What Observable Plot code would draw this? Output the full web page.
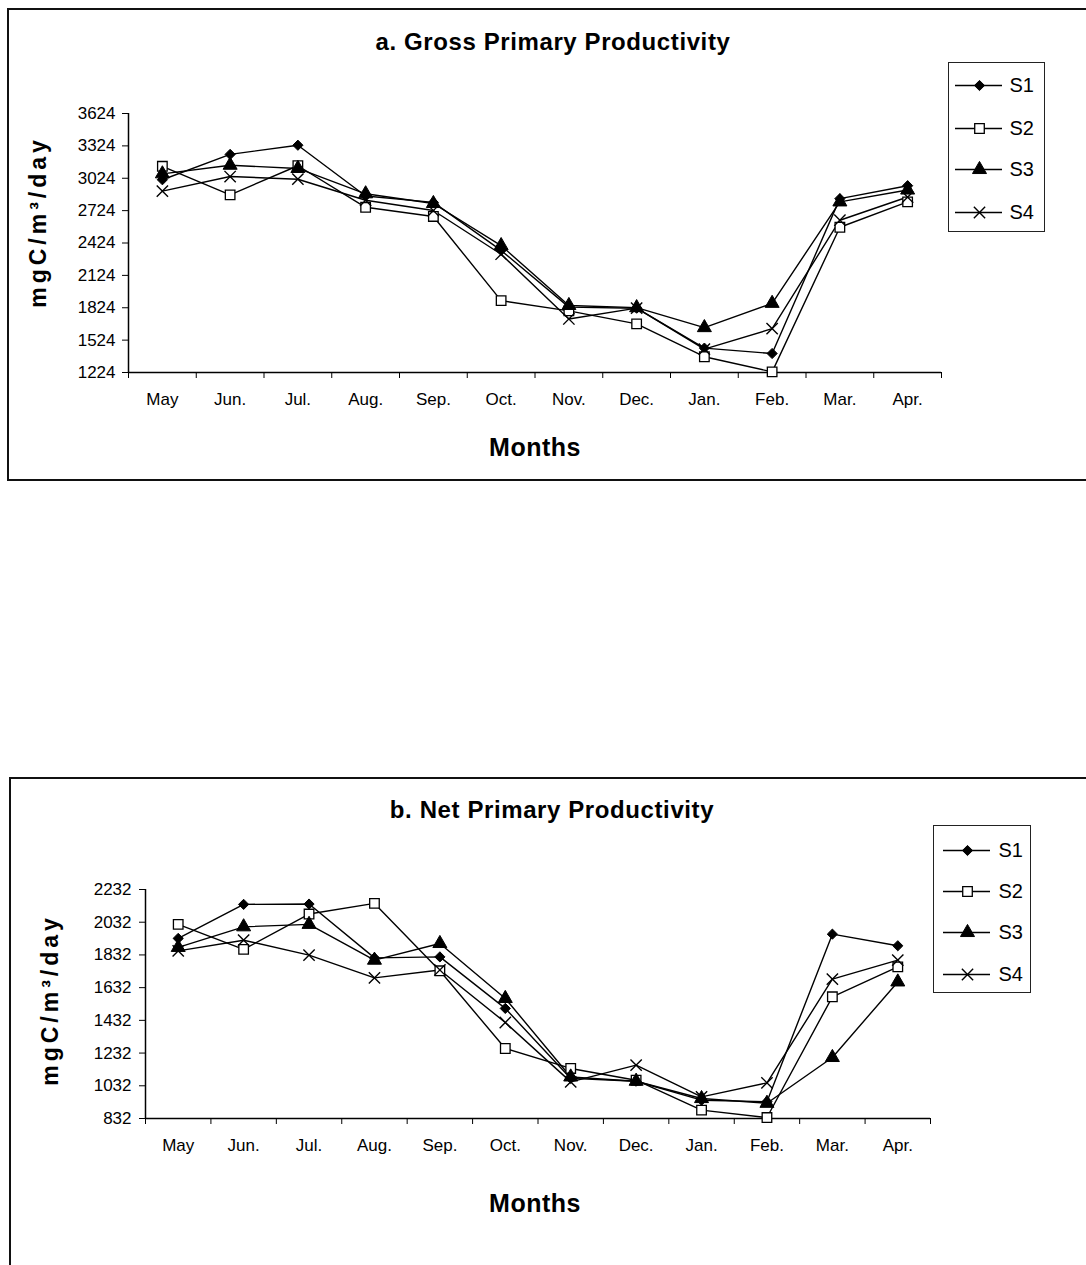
<!DOCTYPE html>
<html>
<head>
<meta charset="utf-8">
<script src="https://cdn.jsdelivr.net/npm/d3@7"></script>
<script src="https://cdn.jsdelivr.net/npm/@observablehq/plot@0.6"></script>
<style>
  html, body { margin: 0; padding: 0; background: #fff; }
  body { position: relative; width: 1086px; height: 1265px; overflow: hidden; font-family: "Liberation Sans", Arial, sans-serif; color: #000; }
  .frame { position: absolute; border: 2px solid #111; box-sizing: border-box; }
  .title { position: absolute; font-weight: bold; font-size: 24px; letter-spacing: 0.6px; white-space: nowrap; transform: translate(-50%, -50%); }
  .xlab { position: absolute; font-weight: bold; font-size: 25px; letter-spacing: 0.5px; white-space: nowrap; transform: translate(-50%, -50%); }
  .ylab { position: absolute; font-weight: bold; font-size: 23px; white-space: nowrap; transform: translate(-50%, -50%) rotate(-90deg); letter-spacing: 4px; }
  .legend { position: absolute; border: 1px solid #222; box-sizing: border-box; background: #fff; }
</style>
</head>
<body>
<script>
// ---------------- DATA ----------------
const months = ["May", "Jun.", "Jul.", "Aug.", "Sep.", "Oct.", "Nov.", "Dec.", "Jan.", "Feb.", "Mar.", "Apr."];
const seriesNames = ["S1", "S2", "S3", "S4"];

// a. Gross Primary Productivity (mgC/m3/day)
const gppS1 = [3010, 3245, 3330, 2860, 2800, 2355, 1830, 1820, 1450, 1400, 2835, 2955];
const gppS2 = [3135, 2870, 3140, 2755, 2670, 1890, 1795, 1675, 1370, 1230, 2570, 2805];
const gppS3 = [3065, 3145, 3115, 2880, 2790, 2400, 1845, 1825, 1640, 1865, 2805, 2915];
const gppS4 = [2905, 3040, 3015, 2820, 2725, 2320, 1720, 1820, 1440, 1630, 2635, 2850];
const gppTicks = [1224, 1524, 1824, 2124, 2424, 2724, 3024, 3324, 3624];

// b. Net Primary Productivity (mgC/m3/day)
const nppS1 = [1933, 2141, 2143, 1814, 1820, 1505, 1077, 1060, 944, 935, 1959, 1888];
const nppS2 = [2019, 1866, 2082, 2147, 1735, 1260, 1138, 1066, 883, 838, 1576, 1759];
const nppS3 = [1878, 2004, 2019, 1800, 1902, 1566, 1086, 1060, 954, 925, 1205, 1667];
const nppS4 = [1857, 1922, 1831, 1692, 1740, 1419, 1056, 1158, 964, 1050, 1684, 1800];
const nppTicks = [832, 1032, 1232, 1432, 1632, 1832, 2032, 2232];

// ---------------- STYLES ----------------
const markStyle = {
  S1: {symbol: "diamond2", fill: "#000", stroke: "#000", r: 4.6, strokeWidth: 1},
  S2: {symbol: "square", fill: "#fff", stroke: "#000", r: 5.4, strokeWidth: 1.3},
  S3: {symbol: "triangle", fill: "#000", stroke: "#000", r: 5.2, strokeWidth: 1},
  S4: {symbol: "times", fill: "none", stroke: "#000", r: 5.2, strokeWidth: 1.4}
};

function toRows(arrs) {
  const rows = [];
  seriesNames.forEach((s, k) => arrs[k].forEach((v, i) => rows.push({s, i, v})));
  return rows;
}

function makeChart({rows, ticks, width, height, mL, mR, mT, mB, tickPad}) {
  const idx = months.map((_, i) => i);
  const bounds = d3.range(13).map(i => i - 0.5);
  const ymin = ticks[0], ymax = ticks[ticks.length - 1];
  const marks = [
    Plot.ruleY([ymin], {x1: -0.5, x2: 11.5, stroke: "#000", strokeWidth: 1.5}),
    Plot.ruleX([-0.5], {y1: ymin, y2: ymax, stroke: "#000", strokeWidth: 1.5}),
    Plot.axisY({ticks, label: null, tickSize: 6, tickPadding: tickPad, tickFormat: d => String(d), fontSize: 17, stroke: "#000"}),
    Plot.axisX({ticks: bounds, label: null, tickSize: 6, tickFormat: () => "", stroke: "#000"}),
    Plot.axisX({ticks: idx, label: null, tickSize: 0, tickPadding: 20, tickFormat: i => months[i], fontSize: 17})
  ];
  for (const s of seriesNames) {
    const data = rows.filter(d => d.s === s);
    marks.push(Plot.line(data, {x: "i", y: "v", stroke: "#000", strokeWidth: 1.4}));
  }
  for (const s of seriesNames) {
    const data = rows.filter(d => d.s === s);
    marks.push(Plot.dot(data, {x: "i", y: "v", ...markStyle[s]}));
  }
  return Plot.plot({
    width, height,
    marginLeft: mL, marginRight: mR, marginTop: mT, marginBottom: mB,
    x: {type: "linear", domain: [-0.5, 11.5], axis: null, label: null},
    y: {domain: [ymin, ymax], axis: null, label: null},
    style: {fontFamily: "'Liberation Sans', Arial, sans-serif", fontSize: "17px", color: "#000", background: "transparent", overflow: "visible"},
    marks
  });
}

function makeLegend({w, h, x1, x2, xm, xt, ys}) {
  const marks = [];
  seriesNames.forEach((s, k) => {
    const d = [{s, y: ys[k]}];
    marks.push(Plot.ruleY(d, {y: "y", x1: x1, x2: x2, stroke: "#000", strokeWidth: 1.6}));
    marks.push(Plot.dot(d, {x: xm, y: "y", ...markStyle[s]}));
    marks.push(Plot.text(d, {x: xt, y: "y", text: "s", textAnchor: "start", fontSize: 20, fill: "#000"}));
  });
  return Plot.plot({
    width: w, height: h, margin: 0,
    x: {type: "linear", domain: [0, w], range: [0, w], axis: null},
    y: {type: "linear", domain: [0, h], range: [0, h], axis: null},
    style: {fontFamily: "'Liberation Sans', Arial, sans-serif", background: "transparent", overflow: "visible"},
    marks
  });
}

function place(el, left, top) {
  el.style.position = "absolute";
  el.style.left = left + "px";
  el.style.top = top + "px";
  document.body.appendChild(el);
  return el;
}
function addDiv(cls, text, left, top) {
  const d = document.createElement("div");
  d.className = cls;
  d.textContent = text;
  d.style.left = left + "px";
  d.style.top = top + "px";
  document.body.appendChild(d);
  return d;
}
function addFrame(left, top, w, h) {
  const d = document.createElement("div");
  d.className = "frame";
  Object.assign(d.style, {left: left + "px", top: top + "px", width: w + "px", height: h + "px"});
  document.body.appendChild(d);
}

// frames
addFrame(7, 8, 1110, 473);
addFrame(9, 777, 1110, 600);

// chart a
place(makeChart({rows: toRows([gppS1, gppS2, gppS3, gppS4]), ticks: gppTicks,
  width: 1086, height: 480, mL: 128, mR: 145, mT: 113, mB: 108, tickPad: 7}), 0, 0);
addDiv("title", "a.  Gross Primary Productivity", 553, 42);
addDiv("xlab", "Months", 535, 447);
addDiv("ylab", "mgC/m\u00B3/day", 38, 222);

// legend a
const legA = document.createElement("div");
legA.className = "legend";
Object.assign(legA.style, {left: "948px", top: "62px", width: "97px", height: "170px"});
legA.appendChild(makeLegend({w: 95, h: 168, x1: 6, x2: 53, xm: 30, xt: 60, ys: [22, 65, 106, 149]}));
document.body.appendChild(legA);

// chart b
place(makeChart({rows: toRows([nppS1, nppS2, nppS3, nppS4]), ticks: nppTicks,
  width: 1086, height: 505, mL: 145, mR: 156, mT: 129, mB: 147, tickPad: 8}), 0, 760);
addDiv("title", "b.  Net Primary Productivity", 552, 810);
addDiv("xlab", "Months", 535, 1203);
addDiv("ylab", "mgC/m\u00B3/day", 50, 1000);

// legend b
const legB = document.createElement("div");
legB.className = "legend";
Object.assign(legB.style, {left: "933px", top: "825px", width: "98px", height: "168px"});
legB.appendChild(makeLegend({w: 96, h: 166, x1: 9, x2: 56, xm: 33, xt: 64, ys: [24, 65, 106, 148]}));
document.body.appendChild(legB);
</script>
</body>
</html>
